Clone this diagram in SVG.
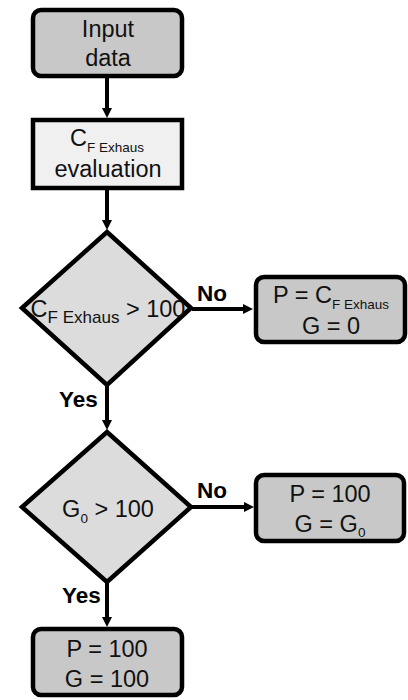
<svg xmlns="http://www.w3.org/2000/svg" width="408" height="700" viewBox="0 0 408 700">
<style>
.box{fill:#c8c8c8;stroke:#000;stroke-width:4.5}
.light{fill:#f0f0f0;stroke:#000;stroke-width:4.5}
.dia{fill:#dcdcdc;stroke:#000;stroke-width:4.5;stroke-linejoin:miter}
.t{font-family:"Liberation Sans",Arial,sans-serif;font-size:23.5px;fill:#111;text-anchor:middle}
.sub{font-size:13.5px}
.dsub{font-size:17px}
.lab{font-family:"Liberation Sans",Arial,sans-serif;font-size:22.5px;font-weight:bold;fill:#000}
.c{stroke:#000;stroke-width:4;fill:none;marker-end:url(#ah)}
</style>
<defs>
<marker id="ah" viewBox="0 0 10 10" refX="1" refY="5" markerWidth="10" markerHeight="10" markerUnits="userSpaceOnUse" orient="auto">
<path d="M0,0 L10,5 L0,10 z" fill="#000"/>
</marker>
</defs>
<g id="connectors">
<line class="c" x1="107" y1="78" x2="107" y2="109"/>
<line class="c" x1="107" y1="190" x2="107" y2="221"/>
<line class="c" x1="107" y1="386" x2="107" y2="421"/>
<line class="c" x1="107" y1="583" x2="107" y2="618"/>
<line class="c" x1="192" y1="309" x2="244" y2="309"/>
<line class="c" x1="192" y1="507" x2="245" y2="507"/>
<text class="lab" x="197" y="301">No</text>
<text class="lab" x="197" y="498">No</text>
<text class="lab" x="59" y="407">Yes</text>
<text class="lab" x="62" y="603">Yes</text>
</g>
<g id="input">
<rect class="box" x="33" y="10" width="149" height="66" rx="8"/>
<text class="t" x="108" y="37">Input</text>
<text class="t" x="108" y="66">data</text>
</g>
<g id="eval">
<rect class="light" x="33" y="120" width="149" height="68"/>
<text class="t" x="107" y="146">C<tspan class="sub" dy="6">F Exhaus</tspan></text>
<text class="t" x="108" y="177">evaluation</text>
</g>
<g id="dec1">
<polygon class="dia" points="107,232 191,308 107,385 22,308"/>
<text class="t" x="108" y="317">C<tspan class="dsub" dy="6">F Exhaus</tspan><tspan dy="-6"> &gt; 100</tspan></text>
</g>
<g id="res1">
<rect class="box" x="256" y="277" width="149" height="65" rx="8"/>
<text class="t" x="331" y="303">P = C<tspan class="sub" dy="6">F Exhaus</tspan></text>
<text class="t" x="331" y="334">G = 0</text>
</g>
<g id="dec2">
<polygon class="dia" points="107,432 191,507 107,582 22,507"/>
<text class="t" x="108" y="517">G<tspan class="sub" dy="6">0</tspan><tspan dy="-6"> &gt; 100</tspan></text>
</g>
<g id="res2">
<rect class="box" x="256" y="475" width="148" height="66" rx="8"/>
<text class="t" x="330" y="502">P = 100</text>
<text class="t" x="330" y="532">G = G<tspan class="sub" dy="5">0</tspan></text>
</g>
<g id="res3">
<rect class="box" x="33" y="629" width="149" height="66" rx="8"/>
<text class="t" x="107" y="657">P = 100</text>
<text class="t" x="107" y="687">G = 100</text>
</g>
</svg>
